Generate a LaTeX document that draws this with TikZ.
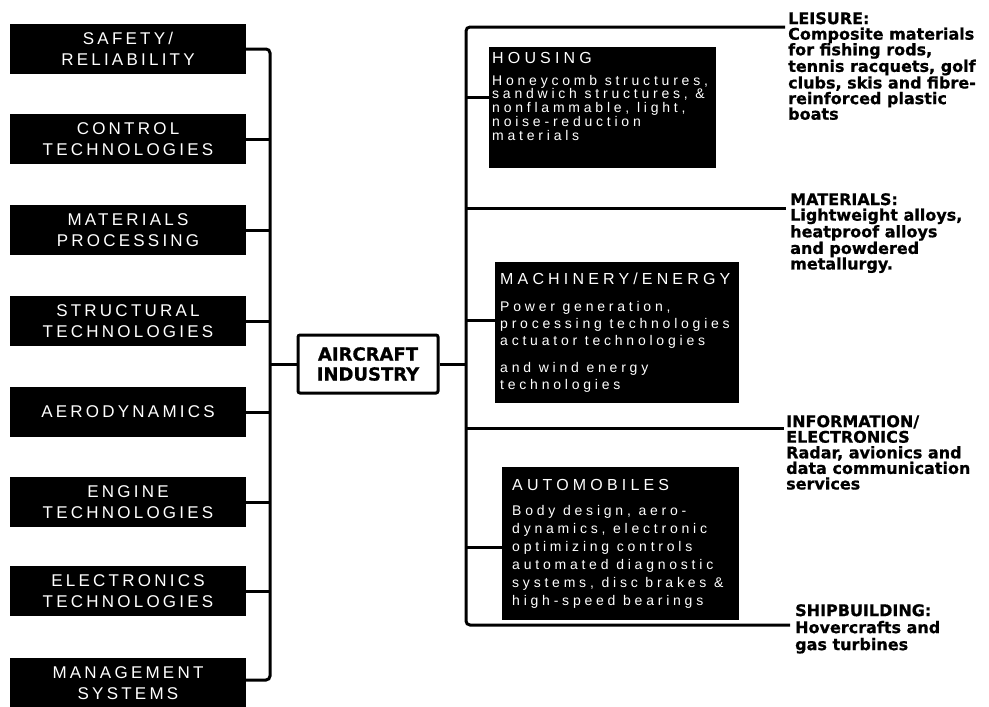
\documentclass[tikz,border=0pt]{standalone}
\usepackage{fontspec}
\setmainfont{Liberation Sans}
\newfontfamily\techfont[LetterSpace=19]{Liberation Sans}
\newfontfamily\usetitlefont[LetterSpace=26]{Liberation Sans}
\newfontfamily\usebodyfont[LetterSpace=27]{Liberation Sans}
\newfontfamily\heavyfont[FakeBold=0.8]{DejaVu Sans Bold}

\begin{document}
\begin{tikzpicture}[x=1pt,y=-1pt]
\tikzset{
  link/.style={black,line width=3pt},
  techbox/.style={fill=black,text=white,minimum width=236pt,minimum height=50pt,
    inner sep=0pt,align=center,font=\techfont\fontsize{17}{20.5}\selectfont},
  usebox/.style={fill=black,anchor=north west,inner sep=0pt},
  usetext/.style={text=white,anchor=north west,inner sep=0pt,align=left,
    font=\usebodyfont\fontsize{14}{14}\selectfont},
  hubbox/.style={draw=black,line width=3pt,fill=white,rounded corners=2pt,
    minimum width=140pt,minimum height=58pt,inner sep=0pt,align=center,
    font=\heavyfont\fontsize{18}{20}\selectfont},
  outlabel/.style={anchor=north west,inner sep=0pt,align=left,
    font=\heavyfont\fontsize{16}{15.6}\selectfont}
}
\useasboundingbox (0,0) rectangle (989,707);

\node[techbox] (safety) at (128,49) {SAFETY/\\RELIABILITY};
\node[techbox] (control) at (128,139) {CONTROL\\TECHNOLOGIES};
\node[techbox] (matproc) at (128,230) {MATERIALS\\PROCESSING};
\node[techbox] (structural) at (128,321) {STRUCTURAL\\TECHNOLOGIES};
\node[techbox] (aero) at (128,412) {AERODYNAMICS};
\node[techbox] (engine) at (128,502) {ENGINE\\TECHNOLOGIES};
\node[techbox] (electronics) at (128,591) {ELECTRONICS\\TECHNOLOGIES};
\node[techbox] (management) at (128,683) {MANAGEMENT\\SYSTEMS};

\node[hubbox] (aircraft) at (368,364) {AIRCRAFT\\INDUSTRY};

\coordinate (ltop) at (270,50);
\coordinate (lbot) at (270,680);
\coordinate (rtop) at (466,27);
\coordinate (rmat) at (466,208);
\coordinate (rinfo) at (466,428);
\coordinate (rbot) at (466,625);

\node[usebox,minimum width=227pt,minimum height=121pt] (housing) at (489,47) {};
\node[usetext,font=\usebodyfont\fontsize{14}{13.8}\selectfont] (housingtext) at (492,52)
  {{\usetitlefont\fontsize{16}{18}\selectfont HOUSING}\\[8pt]
   Honeycomb structures,\\ sandwich structures, \&\\ nonflammable, light,\\
   noise-reduction\\ materials};

\node[usebox,minimum width=244pt,minimum height=141pt] (machinery) at (495,262) {};
\node[usetext,font=\usebodyfont\fontsize{14}{17}\selectfont] (machinerytext) at (500,273)
  {{\usetitlefont\fontsize{16}{18}\selectfont MACHINERY/ENERGY}\\[10pt]
   Power generation,\\ processing technologies\\ actuator technologies\\[10pt]
   and wind energy\\ technologies};

\node[usebox,minimum width=237pt,minimum height=153pt] (autos) at (502,467) {};
\node[usetext,font=\usebodyfont\fontsize{14}{18}\selectfont] (autostext) at (512,479)
  {{\usetitlefont\fontsize{16}{18}\selectfont AUTOMOBILES}\\[7pt]
   Body design, aero-\\ dynamics, electronic\\ optimizing controls\\
   automated diagnostic\\ systems, disc brakes \&\\ high-speed bearings};

\node[outlabel] (leisure) at (788,12)
  {LEISURE:\\ Composite materials\\ for fishing rods,\\ tennis racquets, golf\\
   clubs, skis and fibre-\\ reinforced plastic\\ boats};
\node[outlabel] (materials) at (790,193)
  {MATERIALS:\\ Lightweight alloys,\\ heatproof alloys\\ and powdered\\ metallurgy.};
\node[outlabel] (information) at (786,415)
  {INFORMATION/\\ ELECTRONICS\\ Radar, avionics and\\ data communication\\ services};
\node[outlabel,font=\heavyfont\fontsize{16}{17}\selectfont] (shipbuilding) at (795,604)
  {SHIPBUILDING:\\ Hovercrafts and\\ gas turbines};

\draw[link,rounded corners=4pt] (safety.east) -| (lbot) -- (management.east |- lbot);
\foreach \b in {control,matproc,structural,aero,engine,electronics}
  \draw[link] (\b.east) -- (\b.east -| ltop);
\draw[link] (ltop |- aircraft.west) -- (aircraft.west);
\draw[link] (aircraft.east) -- (aircraft.east -| rtop);

\draw[link,rounded corners=4pt] ([xshift=-3pt]leisure.west |- rtop) -- (rtop) -- (rbot)
  -- ([xshift=-5pt]shipbuilding.west |- rbot);
\draw[link] (rmat) -- ([xshift=-4pt]materials.west |- rmat);
\draw[link] (rinfo) -- ([xshift=-2pt]information.west |- rinfo);
\draw[link] (rtop |- 0,97) -- (housing.west |- 0,97);
\draw[link] (rtop |- 0,320) -- (machinery.west |- 0,320);
\draw[link] (rtop |- 0,547) -- (autos.west |- 0,547);
\end{tikzpicture}
\end{document}
